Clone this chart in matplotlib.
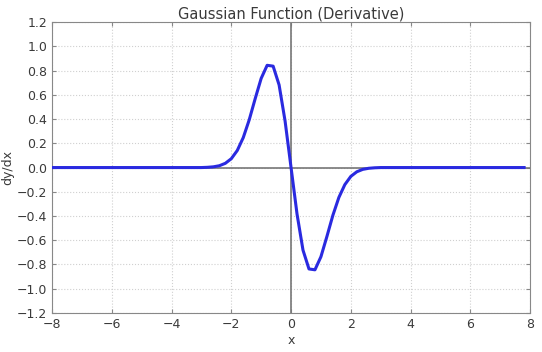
"""Derivative of the Gaussian, redrawn from a screenshot."""
import matplotlib

matplotlib.use("Agg")
import matplotlib.pyplot as plt

# sample points (flat zero tails beyond |x| ~ 3)
X_VALUES = [-8.0, -3.0, -2.8, -2.6, -2.4, -2.2, -2.0, -1.8, -1.6, -1.4, -1.2,
            -1.0, -0.8, -0.6, -0.4, -0.2, 0.0, 0.2, 0.4, 0.6, 0.8, 1.0, 1.2,
            1.4, 1.6, 1.8, 2.0, 2.2, 2.4, 2.6, 2.8, 3.0, 7.8]
DY_VALUES = [0.0, 0.0, 0.002, 0.006, 0.015, 0.035, 0.073, 0.141, 0.247, 0.394,
             0.569, 0.736, 0.844, 0.837, 0.682, 0.384, 0.0, -0.384, -0.682,
             -0.837, -0.844, -0.736, -0.569, -0.394, -0.247, -0.141, -0.073,
             -0.035, -0.015, -0.006, -0.002, 0.0, 0.0]

X_TICKS = [-8, -6, -4, -2, 0, 2, 4, 6, 8]
Y_TICKS = [-1.2, -1.0, -0.8, -0.6, -0.4, -0.2, 0.0, 0.2, 0.4, 0.6, 0.8, 1.0, 1.2]

TEXT = "#3a3a3a"
SPINE = "#888888"

fig = plt.figure(figsize=(5.42, 3.52), dpi=100)
ax = fig.add_axes([0.096, 0.111, 0.882, 0.826])

ax.grid(True, linestyle=":", color="#d0d0d0", linewidth=0.8, zorder=0)
ax.axhline(0, color="#777777", linewidth=1.2, zorder=2)
ax.axvline(0, color="#777777", linewidth=1.2, zorder=2)
ax.plot(X_VALUES, DY_VALUES, color="#2a2ae0", linewidth=2.2, zorder=3)

ax.set_xlim(-8, 8)
ax.set_ylim(-1.2, 1.2)
ax.set_xticks(X_TICKS)
ax.set_yticks(Y_TICKS)
ax.set_xticklabels([f"{t:d}".replace("-", "\u2212") for t in X_TICKS])
ax.set_yticklabels([f"{t:.1f}".replace("-", "\u2212") for t in Y_TICKS])

for spine in ax.spines.values():
    spine.set_color(SPINE)
ax.tick_params(colors=SPINE, labelcolor=TEXT, labelsize=9, direction="in",
               length=3, top=True, right=True)

ax.set_title("Gaussian Function (Derivative)", fontsize=10.5, color=TEXT, pad=3)
ax.set_xlabel("x", fontsize=9, color=TEXT, labelpad=2)
ax.set_ylabel("dy/dx", fontsize=9, color=TEXT, labelpad=2)

fig.savefig("out.png", dpi=100)
